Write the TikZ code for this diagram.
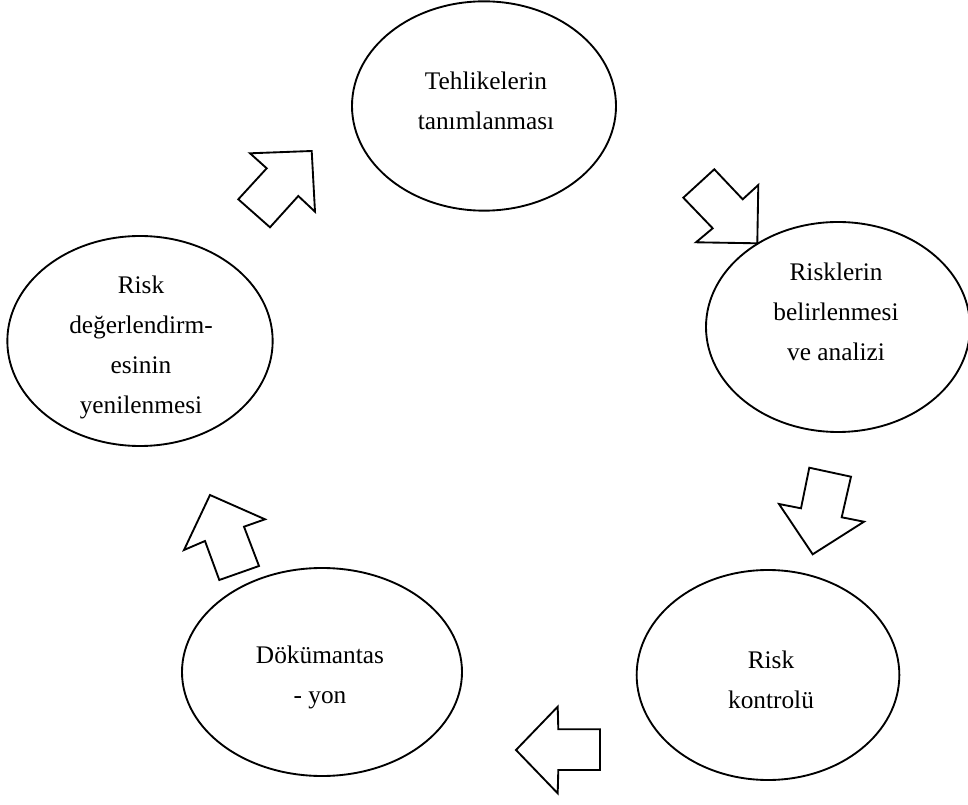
\documentclass[tikz,border=0pt]{standalone}
\usepackage{fontspec}
\setmainfont{Liberation Serif}
\usetikzlibrary{shapes.geometric}
\begin{document}
\begin{tikzpicture}[x=0.75pt,y=-0.75pt,
  stage/.style={ellipse,draw,line width=1.4pt,inner sep=0pt},
  lbl/.style={align=center,inner sep=0pt,font=\fontsize{19}{30}\selectfont},
  blockarrow/.style={draw,line width=1.4pt,line join=miter,fill=white}]
\useasboundingbox (0,0) rectangle (968,805);
% stages
\node[stage,minimum width=198pt,minimum height=157pt] (e1) at (484,106) {};
\node[stage,minimum width=198pt,minimum height=157.5pt] (e2) at (838,327) {};
\node[stage,minimum width=197pt,minimum height=157.5pt] (e3) at (768,675) {};
\node[stage,minimum width=210pt,minimum height=156pt] (e4) at (322,672) {};
\node[stage,minimum width=199pt,minimum height=157.5pt] (e5) at (140,341) {};
% labels
\node[lbl] (t1) at (486,101) {Tehlikelerin\\tanımlanması};
\node[lbl] (t2) at (836,312) {Risklerin\\belirlenmesi\\ve analizi};
\node[lbl] (t3) at (771,680) {Risk\\kontrolü};
\node[lbl] (t4) at (320,677) {Dökümantas\\- yon};
\node[lbl] (t5) at (141,347) {Risk\\değerlendirm-\\esinin\\yenilenmesi};
% block arrows
\draw[blockarrow] (250,153.3) -- (311.7,151) -- (315,211.7) -- (298.3,196) -- (270,227.3) -- (238.3,199.3) -- (266.7,168.3) -- cycle;
\draw[blockarrow] (714.3,169.3) -- (742.7,199.3) -- (758.3,185) -- (757.3,243.3) -- (696,242.3) -- (712.7,228.3) -- (683.3,197.7) -- cycle;
\draw[blockarrow] (809.3,467.7) -- (851,476.7) -- (841.7,517.3) -- (864,521.7) -- (812.7,554.3) -- (779,504) -- (801,508.3) -- cycle;
\draw[blockarrow] (516,750) -- (557.7,706.7) -- (558.3,729.3) -- (600,729.3) -- (600,770) -- (558.3,770) -- (557.7,793.3) -- cycle;
\draw[blockarrow] (210,495) -- (265,519.3) -- (244,526.7) -- (259,566) -- (219.3,580) -- (205,541) -- (184,550) -- cycle;
\end{tikzpicture}
\end{document}
